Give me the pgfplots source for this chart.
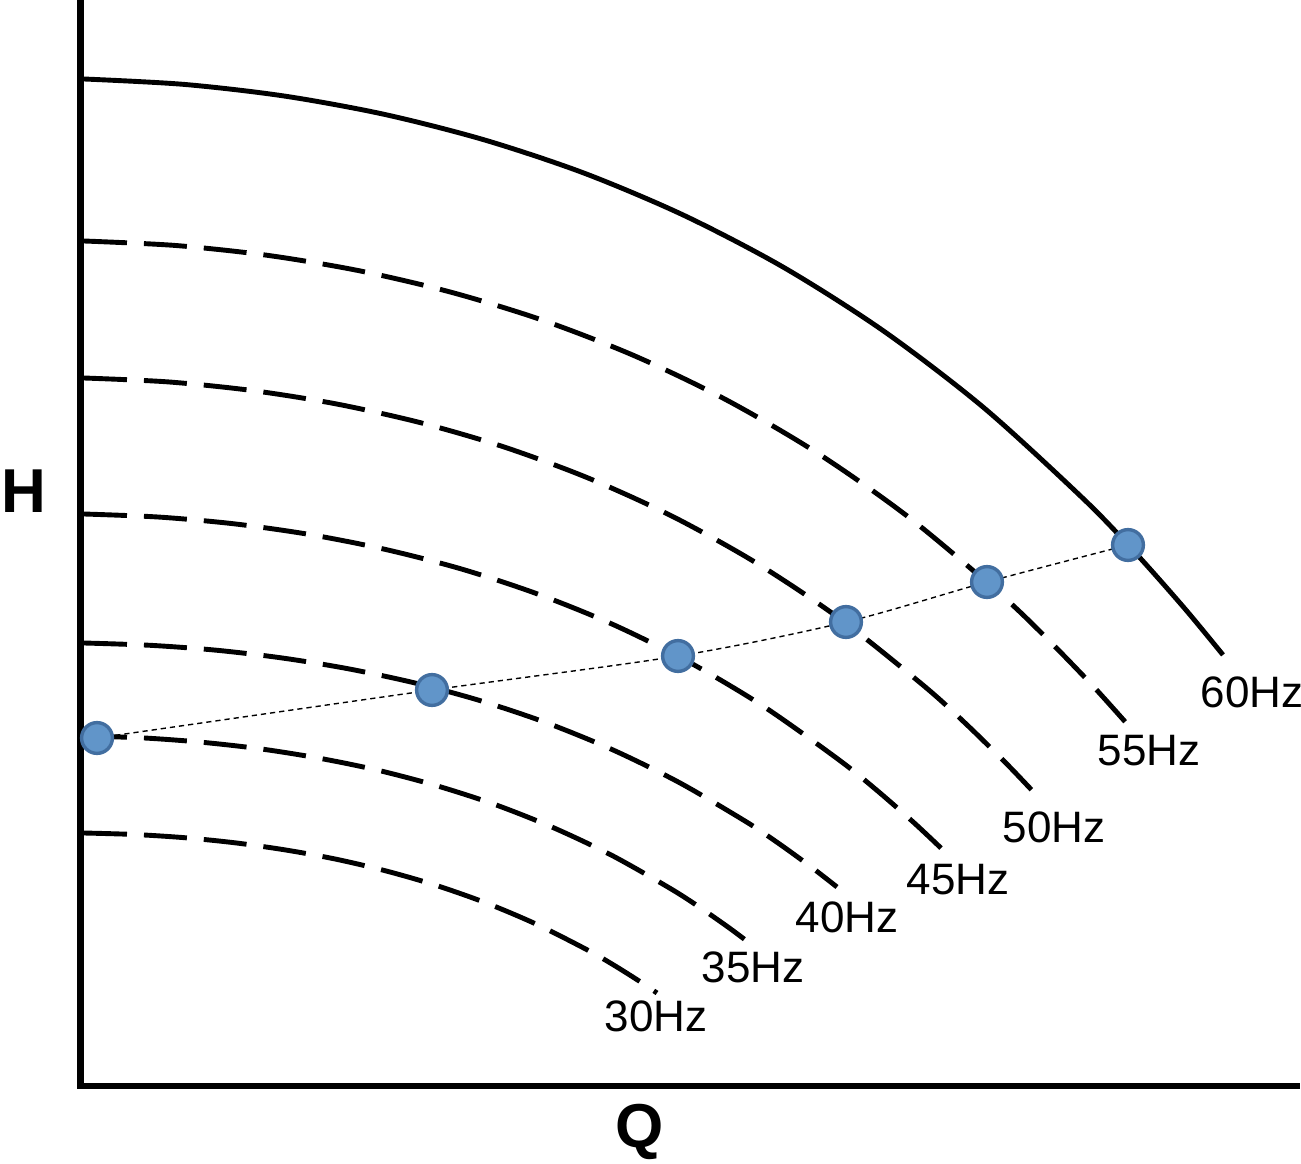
\documentclass[border=0pt]{standalone}
\usepackage{pgfplots}
\pgfplotsset{compat=1.18}
\usepackage{fontspec}
\setmainfont{Liberation Sans}
\definecolor{dotfill}{RGB}{97,149,201}
\definecolor{dotdraw}{RGB}{66,110,160}
\begin{document}
\begin{tikzpicture}
\path[use as bounding box] (-40.25pt,-38.5pt) rectangle (610.25pt,543pt);
\begin{axis}[
  scale only axis,
  width=608.25pt, height=543pt,
  xmin=80.5, xmax=1297, ymin=-1086, ymax=0,
  axis lines*=left,
  axis line style={line width=3.4pt, line cap=rect},
  xtick=\empty, ytick=\empty,
  clip=false,
  every axis plot/.append style={line join=round},
  curve/.style={black, line width=2.45pt, smooth, dash pattern=on 21.5pt off 8.5pt},
]
% 60 Hz (solid)
\addplot[black, line width=2.45pt, smooth] coordinates {
(84,-79)(184,-84.4)(284,-96.0)(384,-114.3)(484,-139.8)(584,-173.1)(684,-215.4)(784,-267.6)(884,-331.3)(984,-407.9)(1084,-499.4)(1134,-551.3)(1184,-607.7)(1223,-654.9)};
% 55 Hz
\addplot[curve] coordinates {
(84,-241)(175.7,-245.5)(267.3,-255.3)(359.0,-270.7)(450.6,-292.1)(542.3,-320.1)(634.0,-355.6)(725.6,-399.5)(817.3,-453.0)(908.9,-517.4)(1000.6,-594.3)(1046.4,-637.9)(1092.3,-685.3)(1128,-725.0)};
% 50 Hz
\addplot[curve] coordinates {
(84,-378)(168.0,-381.9)(252.0,-390.5)(336.1,-403.9)(420.1,-422.6)(504.1,-447.0)(588.1,-478.0)(672.1,-516.2)(756.2,-562.9)(840.2,-619.0)(924.2,-686.1)(966.2,-724.1)(1008.2,-765.4)(1041.0,-800.0)};
% 45 Hz
\addplot[curve] coordinates {
(84,-514)(159.4,-517.1)(234.8,-523.9)(310.3,-534.6)(385.7,-549.5)(461.1,-568.9)(536.5,-593.6)(611.9,-624.0)(687.4,-661.2)(762.8,-705.9)(838.2,-759.3)(875.9,-789.5)(913.6,-822.4)(943.0,-850.0)};
% 40 Hz
\addplot[curve] coordinates {
(84,-643)(150.1,-645.3)(216.2,-650.2)(282.3,-658.0)(348.4,-668.8)(414.6,-682.9)(480.7,-700.8)(546.8,-722.9)(612.9,-749.9)(679.0,-782.4)(745.1,-821.1)(778.2,-843.1)(811.2,-867.0)(837.0,-887.0)};
% 35 Hz
\addplot[curve] coordinates {
(84,-736)(142.7,-737.9)(201.3,-742.2)(260.0,-748.8)(318.6,-758.1)(377.3,-770.1)(435.9,-785.5)(494.6,-804.4)(553.2,-827.6)(611.9,-855.4)(670.5,-888.6)(699.8,-907.4)(729.2,-927.9)(752.0,-945.0)};
% 30 Hz
\addplot[curve] coordinates {
(84,-833)(134.3,-834.5)(184.6,-837.7)(234.9,-842.8)(285.2,-849.9)(335.6,-859.1)(385.9,-870.9)(436.2,-885.4)(486.5,-903.1)(536.8,-924.4)(587.1,-949.8)(612.3,-964.2)(637.4,-979.9)(657.0,-993.0)};
% operating line
\addplot[black, line width=0.7pt, dash pattern=on 2.6pt off 2pt, smooth] coordinates {
(97,-738)(432,-690)(678,-656)(846,-622)(987,-582)(1128,-545)};
% operating points
\addplot[only marks, mark=*, mark size=7.7pt, mark options={fill=dotfill, draw=dotdraw, line width=1.7pt, solid}] coordinates {
(97,-738)(432,-690)(678,-656)(846,-622)(987,-582)(1128,-545)};
% labels
\node[font=\fontsize{22}{26}\selectfont] at (axis cs:1252,-692) {60Hz};
\node[font=\fontsize{22}{26}\selectfont] at (axis cs:1149,-751) {55Hz};
\node[font=\fontsize{22}{26}\selectfont] at (axis cs:1054,-827) {50Hz};
\node[font=\fontsize{22}{26}\selectfont] at (axis cs:958,-880) {45Hz};
\node[font=\fontsize{22}{26}\selectfont] at (axis cs:847,-917) {40Hz};
\node[font=\fontsize{22}{26}\selectfont] at (axis cs:753,-967) {35Hz};
\node[font=\fontsize{22}{26}\selectfont] at (axis cs:656,-1016) {30Hz};
\node[font=\fontsize{31}{36}\selectfont\bfseries] at (axis cs:23.5,-491.5) {H};
\node[font=\fontsize{31}{36}\selectfont\bfseries] at (axis cs:640,-1132) {Q};
\end{axis}
\end{tikzpicture}
\end{document}
